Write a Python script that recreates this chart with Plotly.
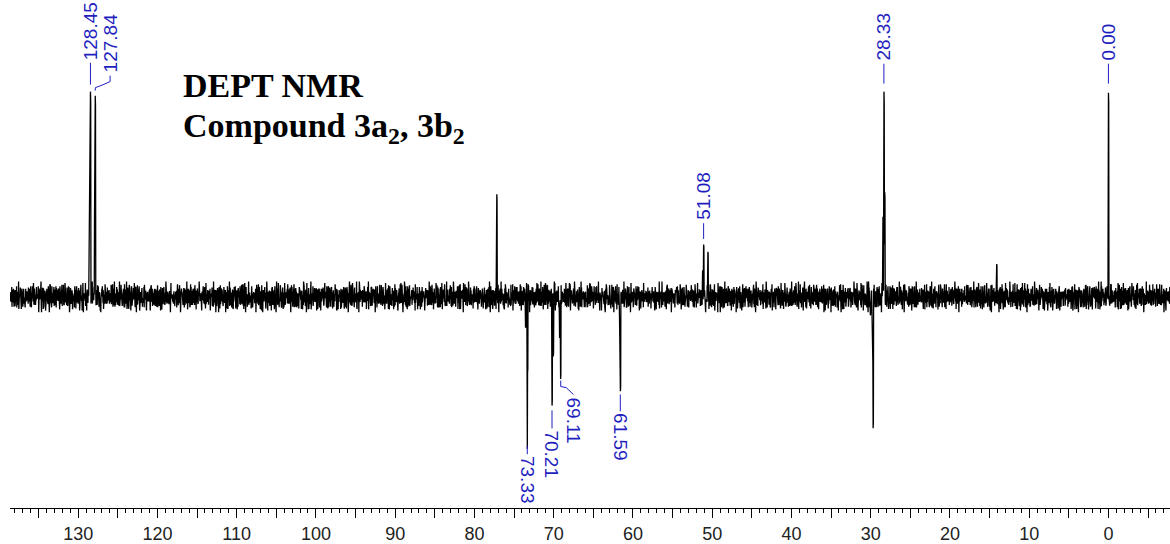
import numpy as np
import plotly.graph_objects as go

# ---------------- data ----------------
# chemical shift axis (ppm) sampling of the spectrum
ppm_start, ppm_end, n_points = 138.6, -7.77, 4600

# peaks: position (ppm) and intensity (100 = tallest positive peak)
peak_ppm = [128.62, 128.52, 128.45, 127.90, 127.84, 77.16,
            51.20, 51.08, 50.55, 28.45, 28.33, 28.22, 14.10, 0.00,
            73.55, 73.33, 73.28, 70.21, 70.05, 69.25, 69.11,
            61.65, 61.59, 29.78, 29.70, 30.05]
peak_int = [25, 54, 100, 74, 98, 50,
            13, 25.5, 22, 39, 100, 51, 16, 99.5,
            -15, -74, -37, -53, -29, -20, -40,
            -29, -46, -32, -64, -9]

# baseline noise: two hand-read digit patterns, mapped to levels
noise_digits_a = (
    "38174609257731940582116943802755029173648843012795"
    "62719083450496173825912837465027850164396649201837"
    "50382917466195037284473920615829180374655027469381"
    "71846203959304718265366290148572804916375518273094"
    "26059481737481026395590372846113857206949627318405"
    "84213069577035948162239846015778612403591048273659"
    "19570384626840159273305726918447293851066158302947"
    "93628175040472968513817350492662049183751739026485"
)
noise_digits_b = (
    "52718394061736205948270193846512739058461729305816"
    "40392857164820719365082734195603827164950318274695"
    "17306495821953048726385910274613064925837140592837"
    "64829105736290418357102946385701846392570186349257"
    "3081649275039471628503928174"
)
noise_levels_a = [-5.0, -3.4, -2.3, -1.4, -0.5, 0.5, 1.4, 2.3, 3.4, 5.0]
noise_levels_b = [-2.5, -1.7, -1.1, -0.7, -0.2, 0.2, 0.7, 1.1, 1.7, 2.5]

# labelled peaks
label_text = ["128.45", "127.84", "51.08", "28.33", "0.00",
              "73.33", "70.21", "69.11", "61.59"]
label_ppm = [128.45, 127.84, 51.08, 28.33, 0.00,
             73.33, 70.21, 69.11, 61.59]

tick_vals = list(range(-5, 140, 5))
tick_text = [str(v) if v % 10 == 0 else "" for v in tick_vals]

# ---------------- build spectrum ----------------
x = np.linspace(ppm_start, ppm_end, n_points)
na = np.array([noise_levels_a[int(c)] for c in noise_digits_a])
nb = np.array([noise_levels_b[int(c)] for c in noise_digits_b])
y = (np.tile(na, n_points // len(na) + 1)[:n_points]
     + np.tile(nb, n_points // len(nb) + 1)[:n_points])
for p, h in zip(peak_ppm, peak_int):
    i = int(np.argmin(np.abs(x - p)))
    y[i] = h
    y[i + 1] = h * 0.95
    if abs(y[i - 1]) < abs(h) * 0.5:
        y[i - 1] = h * 0.5

fig = go.Figure()
fig.add_trace(go.Scatter(x=x, y=y, mode="lines",
                         line=dict(color="black", width=1.3),
                         hoverinfo="skip", showlegend=False))

BLUE = "#1f1fbf"
LFONT = dict(family="Liberation Sans, Arial, sans-serif", size=19, color=BLUE)

# label layout: (connector path points in (ppm, value), text x ppm, text y value, angle)
label_layout = {
    "128.45": ([(128.45, 103.4), (128.45, 114.1)], 128.45, 115.0, -90),
    "127.84": ([(127.84, 100.5), (127.84, 101.9), (126.85, 103.4),
                (125.97, 104.9), (125.97, 107.8)], 125.97, 108.7, -90),
    "51.08": ([(51.08, 28.2), (51.08, 35.9)], 51.08, 36.9, -90),
    "28.33": ([(28.33, 103.9), (28.33, 113.6)], 28.33, 114.6, -90),
    "0.00": ([(0.00, 103.9), (0.00, 113.6)], 0.00, 114.6, -90),
    "73.33": ([(73.33, -72.8), (73.33, -76.7)], 73.33, -77.2, 90),
    "70.21": ([(70.21, -55.3), (70.21, -64.1)], 70.21, -64.6, 90),
    "69.11": ([(69.11, -40.8), (69.11, -43.7), (68.43, -44.2),
               (67.5, -47.6)], 67.45, -48.5, 90),
    "61.59": ([(61.59, -47.6), (61.59, -55.8)], 61.59, -56.3, 90),
}

for t in label_text:
    pts, tx, ty, ang = label_layout[t]
    path = "M " + " L ".join(f"{px},{py}" for px, py in pts)
    fig.add_shape(type="path", path=path, xref="x", yref="y",
                  line=dict(color=BLUE, width=1))
    fig.add_annotation(x=tx, y=ty, xref="x", yref="y", text=t,
                       showarrow=False, textangle=ang, font=LFONT,
                       xanchor="center",
                       yanchor="bottom" if ang < 0 else "top",
                       borderpad=0)

TFONT = dict(family="Liberation Serif, Times New Roman, serif", size=34,
             color="black")
fig.add_annotation(x=0.1475, y=0.8716, xref="paper", yref="paper",
                   text="<b>DEPT NMR</b>", showarrow=False,
                   xanchor="left", yanchor="top", font=TFONT)
fig.add_annotation(x=0.1475, y=0.7931, xref="paper", yref="paper",
                   text="<b>Compound 3a<sub>2</sub>, 3b<sub>2</sub></b>",
                   showarrow=False, xanchor="left", yanchor="top", font=TFONT)

fig.update_layout(
    width=1170, height=544,
    margin=dict(l=10, r=0, t=0, b=34),
    paper_bgcolor="white", plot_bgcolor="white",
    showlegend=False,
    xaxis=dict(range=[ppm_start, ppm_end], showgrid=False, zeroline=False,
               showline=True, linecolor="black", linewidth=1,
               tickmode="array", tickvals=tick_vals, ticktext=tick_text,
               ticks="outside", ticklen=9, tickcolor="black", tickwidth=1,
               tickfont=dict(family="Liberation Sans, Arial, sans-serif",
                             size=18, color="#222"),
               minor=dict(tickmode="linear", tick0=0, dtick=1,
                          ticks="outside", ticklen=4, tickcolor="black",
                          tickwidth=1, showgrid=False)),
    yaxis=dict(range=[-102.9, 144.66], visible=False, showgrid=False,
               zeroline=False),
)

fig.write_html("out.html")
